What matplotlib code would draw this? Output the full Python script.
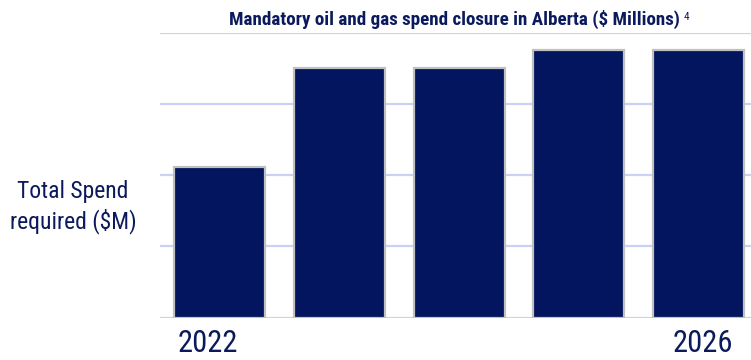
import matplotlib
matplotlib.use("Agg")
import matplotlib.pyplot as plt
from matplotlib import font_manager
from matplotlib.transforms import ScaledTranslation

# Closure spend required per year ($ millions)
years = ["2022", "2023", "2024", "2025", "2026"]
spend = [422, 700, 700, 750, 750]
tick_labels = ["2022", "", "", "", "2026"]

title = "Mandatory oil and gas spend closure in Alberta ($ Millions)"
footnote = "4"
ylabel = "Total Spend\nrequired ($M)"

navy = "#03155f"
text_navy = "#0b1a5c"
grid_blue = "#c9d1f7"
edge_grey = "#c0c0c0"

installed = {f.name for f in font_manager.fontManager.ttflist}
family = "DejaVu Sans"
for cand in ["Roboto Condensed", "Liberation Sans Narrow", "Open Sans Condensed"]:
    if cand in installed:
        family = cand
        break
plt.rcParams["font.family"] = [family, "DejaVu Sans"]
plt.rcParams["text.parse_math"] = False

fig = plt.figure(figsize=(7.51, 3.60), dpi=100)
ax = fig.add_axes([160 / 751, 1 - 317.7 / 360, (751 - 160) / 751, (317.7 - 32.5) / 360])

x = list(range(len(years)))
ax.bar(x, spend, width=0.76, color=navy, edgecolor=edge_grey, linewidth=1.6, zorder=3)

ax.set_ylim(0, 800)
ax.set_xlim(-0.5, 4.44)
ax.set_yticks([0, 200, 400, 600, 800])
ax.set_yticklabels([])
ax.tick_params(axis="y", length=0)
ax.grid(axis="y", color=grid_blue, linewidth=1.6, zorder=0)
ax.set_axisbelow(True)
for s in ax.spines.values():
    s.set_visible(False)

ax.set_xticks(x)
ax.set_xticklabels(tick_labels, fontsize=22, color=text_navy)
ax.tick_params(axis="x", length=0, pad=8)
shifts = [-12, 0, 0, 0, 5]
for lab, dx in zip(ax.get_xticklabels(), shifts):
    lab.set_transform(lab.get_transform() + ScaledTranslation(dx / 100, 0, fig.dpi_scale_trans))

fig.text(73 / 751, 1 - 207 / 360, ylabel, ha="center", va="center",
         fontsize=17, color=text_navy, linespacing=1.3)

t = fig.text(454.5 / 751, 1 - 19 / 360, title, ha="center", va="center",
             fontsize=13.7, fontweight="bold", color=text_navy)
fig.canvas.draw()
bb = t.get_window_extent()
fig.text((bb.x1 + 4) / 751, 1 - 19.5 / 360, footnote, ha="left", va="baseline",
         fontsize=8, color=text_navy)

fig.savefig("out.png", dpi=100)
